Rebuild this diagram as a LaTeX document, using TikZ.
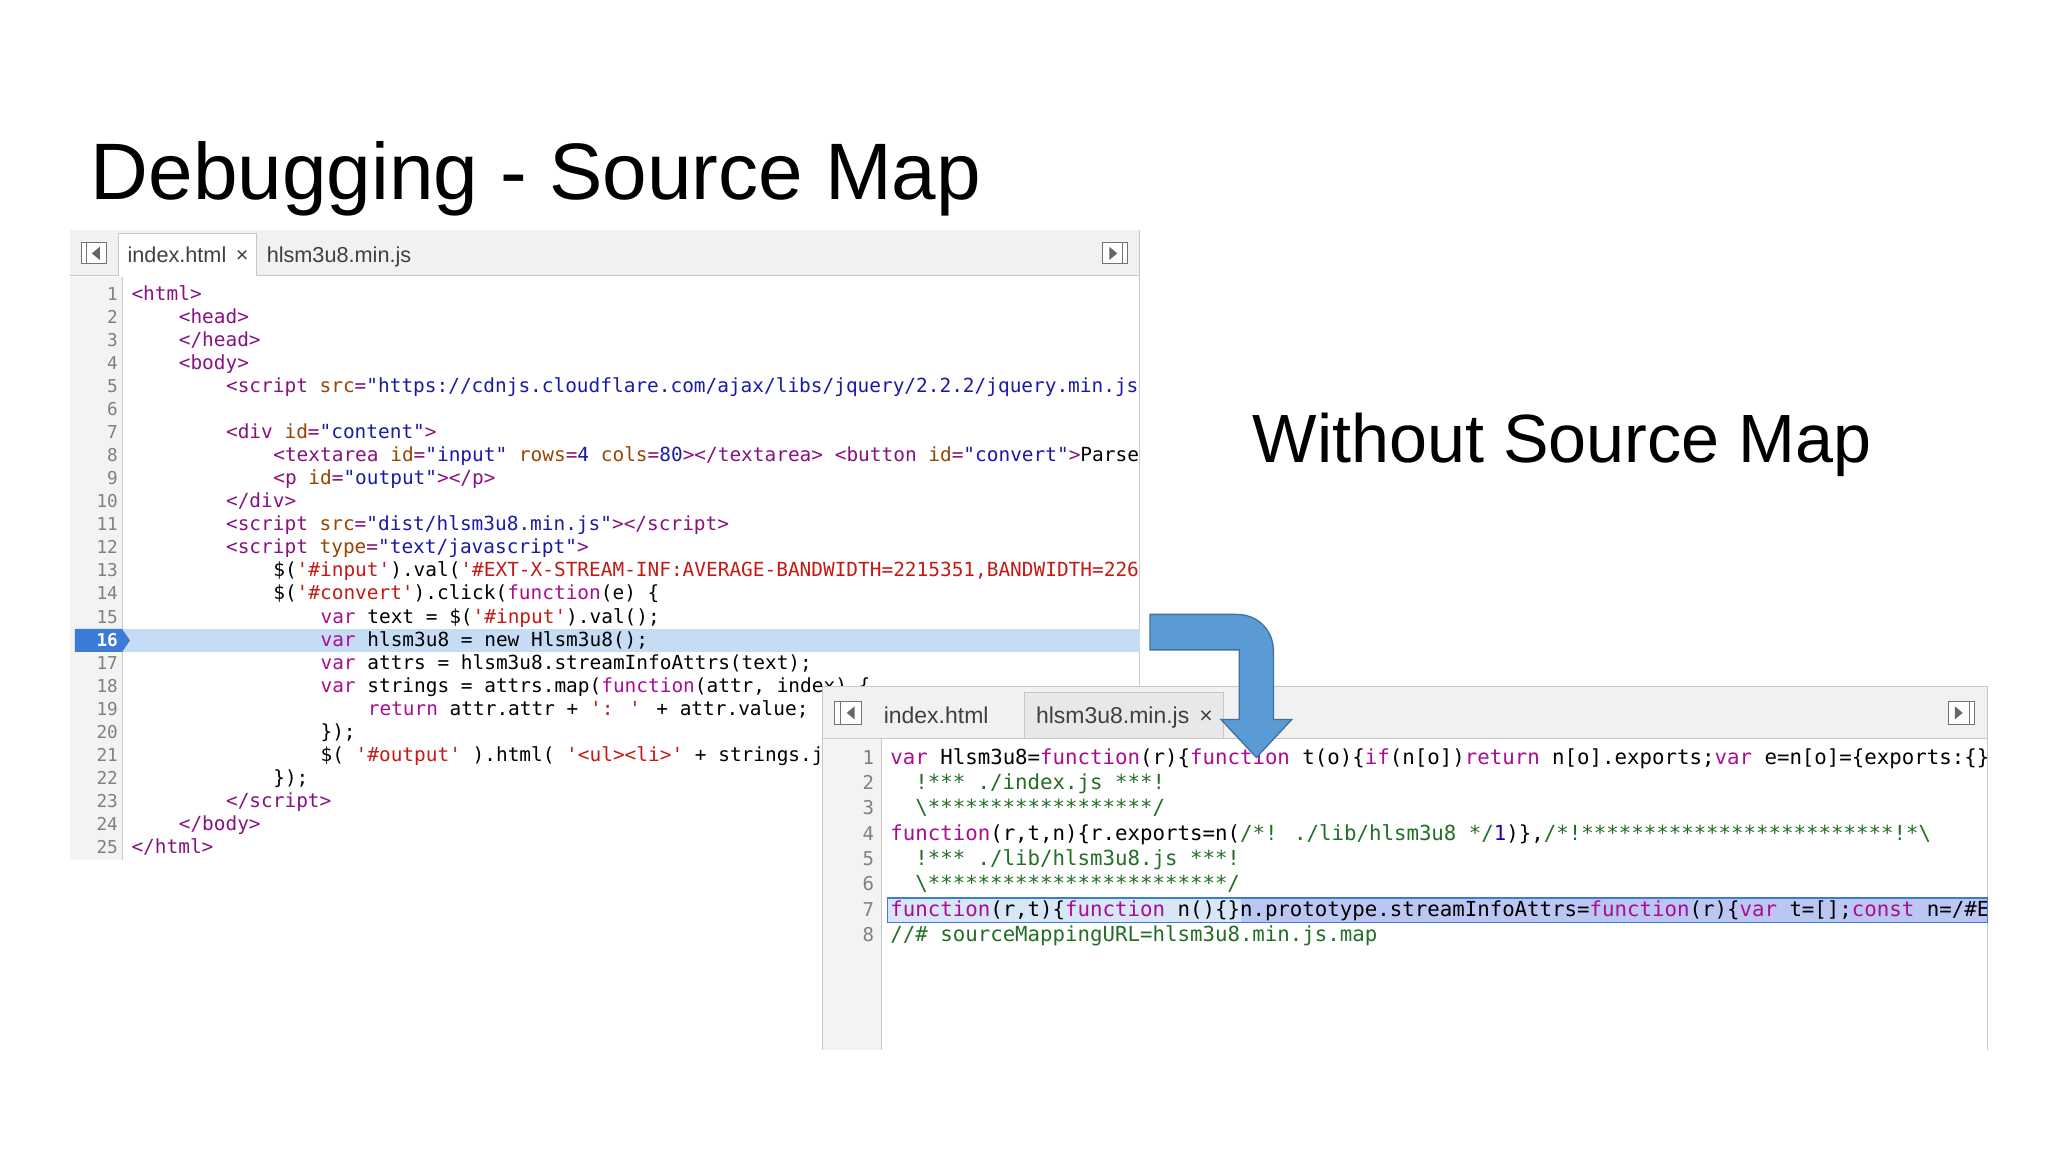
\documentclass[tikz,border=0pt]{standalone}
\usepackage{fontspec}
\setmainfont{Liberation Sans}
\newfontfamily\codefont{DejaVu Sans Mono}
\definecolor{tagc}{HTML}{881280}
\definecolor{attrc}{HTML}{994500}
\definecolor{valc}{HTML}{1A1AA6}
\definecolor{kwc}{HTML}{AA0D91}
\definecolor{strc}{HTML}{C41A16}
\definecolor{cmc}{HTML}{236E25}
\definecolor{numc}{HTML}{1C00CF}
\definecolor{barbg}{HTML}{F1F1F1}
\definecolor{gutbg}{HTML}{F3F3F3}
\definecolor{edge}{HTML}{C8C8C8}
\definecolor{hl}{HTML}{C6DCF4}
\definecolor{badge}{HTML}{3D7BD8}
\definecolor{selc}{HTML}{BCC6F2}
\definecolor{arrowfill}{HTML}{5B9BD5}
\definecolor{arrowline}{HTML}{41719C}
\newcommand{\Tg}[1]{\textcolor{tagc}{#1}}
\newcommand{\An}[1]{\textcolor{attrc}{#1}}
\newcommand{\Av}[1]{\textcolor{valc}{#1}}
\newcommand{\Kw}[1]{\textcolor{kwc}{#1}}
\newcommand{\St}[1]{\textcolor{strc}{#1}}
\newcommand{\Cm}[1]{\textcolor{cmc}{#1}}
\newcommand{\Nm}[1]{\textcolor{numc}{#1}}
\tikzset{
  lcode/.style={inner sep=0pt,anchor=base west,font=\codefont\fontsize{14.8}{17}\selectfont},
  rcode/.style={inner sep=0pt,anchor=base west,font=\codefont\fontsize{15.8}{18}\selectfont},
  lnum/.style={inner sep=0pt,anchor=base east,text=gray,font=\codefont\fontsize{13.5}{15}\selectfont},
  tabtxt/.style={inner sep=0pt,anchor=base west,font=\fontsize{16.5}{18}\selectfont,text=black!75},
  icon/.style={draw=black!55,line width=0.8pt,fill=white}
}
\newcommand{\LL}[3]{\node[lcode] (ll#1) at (#2,{229+(#1-1)*17.54}) {#3};}
\newcommand{\RL}[3]{\node[rcode] (rl#1) at (#2,{582+(#1-1)*19.3}) {#3};}
\begin{document}
\begin{tikzpicture}[x=1pt,y=-1pt]
\useasboundingbox (0,0) rectangle (1560,877.5);
\fill[white] (0,0) rectangle (1560,877.5);
% title
\node[inner sep=0pt,anchor=base west,font=\fontsize{61}{66}\selectfont] (title) at (69,152) {Debugging - Source Map};
\node[inner sep=0pt,anchor=base west,font=\fontsize{52}{58}\selectfont] (without) at (954,352) {Without Source Map};
% ---------------- left panel
\fill[white] (53,175) rectangle (868,655);
\fill[barbg] (53,175) rectangle (868,210);
\draw[edge] (53,210) -- (868,210);
\fill[white] (90,178) rectangle (195,210);
\draw[edge] (90,210) -- (90,178) -- (195,178) -- (195,210);
\draw[icon] (62,185) rectangle (81,201);
\draw[black!55] (66,185) -- (66,201);
\fill[black!60] (76,188) -- (70,193) -- (76,198) -- cycle;
\draw[icon] (840,185) rectangle (859,201);
\draw[black!55] (855,185) -- (855,201);
\fill[black!60] (845,188) -- (851,193) -- (845,198) -- cycle;
\node[tabtxt] (lt1) at (97,200) {index.html \,×};
\node[tabtxt] (lt2) at (203,200) {hlsm3u8.min.js};
\fill[gutbg] (53,211) rectangle (93,655);
\draw[edge] (93,211) -- (93,655);
\draw[edge] (868,175) -- (868,655);
% highlight line 16
\fill[hl] (93,{229+15*17.54-13}) rectangle (868,{229+15*17.54+4.5});
\fill[badge] (57,{229+15*17.54-13}) -- (93,{229+15*17.54-13}) -- (99,{229+15*17.54-4.25}) -- (93,{229+15*17.54+4.5}) -- (57,{229+15*17.54+4.5}) -- cycle;
\foreach \n in {1,...,25}{
  \ifnum\n=16
   \node[lnum,text=white,font=\codefont\bfseries\fontsize{13.5}{15}\selectfont] (ln\n) at (90,{229+(\n-1)*17.54}) {\n};
  \else
   \node[lnum] (ln\n) at (90,{229+(\n-1)*17.54}) {\n};
  \fi
}
\begin{scope}
\clip (94,211) rectangle (867,655);
\LL{1}{100}{\Tg{<html>}}
\LL{2}{136}{\Tg{<head>}}
\LL{3}{136}{\Tg{</head>}}
\LL{4}{136}{\Tg{<body>}}
\LL{5}{172}{\Tg{<script} \An{src}\Tg{=}\Av{"https://cdnjs.cloudflare.com/ajax/libs/jquery/2.2.2/jquery.min.js"}\Tg{></script>}}
\LL{7}{172}{\Tg{<div} \An{id}\Tg{=}\Av{"content"}\Tg{>}}
\LL{8}{208}{\Tg{<textarea} \An{id}\Tg{=}\Av{"input"} \An{rows}\Tg{=}\Av{4} \An{cols}\Tg{=}\Av{80}\Tg{></textarea>} \Tg{<button} \An{id}\Tg{=}\Av{"convert"}\Tg{>}Parse}
\LL{9}{208}{\Tg{<p} \An{id}\Tg{=}\Av{"output"}\Tg{></p>}}
\LL{10}{172}{\Tg{</div>}}
\LL{11}{172}{\Tg{<script} \An{src}\Tg{=}\Av{"dist/hlsm3u8.min.js"}\Tg{></script>}}
\LL{12}{172}{\Tg{<script} \An{type}\Tg{=}\Av{"text/javascript"}\Tg{>}}
\LL{13}{208}{\$(\St{'\#input'}).val(\St{'\#EXT-X-STREAM-INF:AVERAGE-BANDWIDTH=2215351,BANDWIDTH=2266'})}
\LL{14}{208}{\$(\St{'\#convert'}).click(\Kw{function}(e) \{}
\LL{15}{244}{\Kw{var} text = \$(\St{'\#input'}).val();}
\LL{16}{244}{\Kw{var} hlsm3u8 = new Hlsm3u8();}
\LL{17}{244}{\Kw{var} attrs = hlsm3u8.streamInfoAttrs(text);}
\LL{18}{244}{\Kw{var} strings = attrs.map(\Kw{function}(attr, index) \{}
\LL{19}{280}{\Kw{return} attr.attr + \St{': '} + attr.value;}
\LL{20}{244}{\});}
\LL{21}{244}{\$( \St{'\#output'} ).html( \St{'<ul><li>'} + strings.join(\St{'</li><li>'}));}
\LL{22}{208}{\});}
\LL{23}{172}{\Tg{</script>}}
\LL{24}{136}{\Tg{</body>}}
\LL{25}{100}{\Tg{</html>}}
\end{scope}
% ---------------- right panel
\fill[white] (626,523) rectangle (1514,800);
\fill[barbg] (626,523) rectangle (1514,562);
\fill[black!9] (780,527) rectangle (932,562);
\draw[edge] (780,562) -- (780,527) -- (932,527) -- (932,562);
\draw[edge] (626,562) -- (1514,562);
\draw[edge] (626,523) -- (1514,523);
\draw[icon] (636,534) rectangle (656,552);
\draw[black!55] (640,534) -- (640,552);
\fill[black!60] (651,538) -- (645,543) -- (651,548) -- cycle;
\draw[icon] (1484,534) rectangle (1504,552);
\draw[black!55] (1500,534) -- (1500,552);
\fill[black!60] (1489,538) -- (1495,543) -- (1489,548) -- cycle;
\node[tabtxt,font=\fontsize{17.5}{19}\selectfont] (rt1) at (673,551) {index.html};
\node[tabtxt,font=\fontsize{17.5}{19}\selectfont] (rt2) at (789,551) {hlsm3u8.min.js \,×};
\fill[gutbg] (627,563) rectangle (671,800);
\draw[edge] (671,563) -- (671,800);
\draw[edge] (626,523) -- (626,800);
\draw[edge] (1514,523) -- (1514,800);
% line 7 highlight
\fill[hl!70] (676,{582+6*19.3-14}) rectangle (1514,{582+6*19.3+5});
\fill[selc] (945,{582+6*19.3-14}) rectangle (1514,{582+6*19.3+5});
\draw[badge,line width=1.2pt] (676,{582+6*19.3-14}) rectangle (1514,{582+6*19.3+5});
\foreach \n in {1,...,8}{
  \node[lnum,font=\codefont\fontsize{14.5}{16}\selectfont] (rn\n) at (666,{582+(\n-1)*19.3}) {\n};
}
\begin{scope}
\clip (672,563) rectangle (1513,800);
\RL{1}{678}{\Kw{var} Hlsm3u8=\Kw{function}(r)\{\Kw{function} t(o)\{\Kw{if}(n[o])\Kw{return} n[o].exports;\Kw{var} e=n[o]=\{exports:\{\},id:o\}}
\RL{2}{697}{\Cm{!*** ./index.js ***!}}
\RL{3}{697}{\Cm{\textbackslash******************/}}
\RL{4}{678}{\Kw{function}(r,t,n)\{r.exports=n(\Cm{/*! ./lib/hlsm3u8 */}\Nm{1})\},\Cm{/*!*************************!*\textbackslash}}
\RL{5}{697}{\Cm{!*** ./lib/hlsm3u8.js ***!}}
\RL{6}{697}{\Cm{\textbackslash************************/}}
\RL{7}{678}{\Kw{function}(r,t)\{\Kw{function} n()\{\}n.prototype.streamInfoAttrs=\Kw{function}(r)\{\Kw{var} t=[];\Kw{const} n=/\#EXT}
\RL{8}{678}{\Cm{//\# sourceMappingURL=hlsm3u8.min.js.map}}
\end{scope}
% ---------------- arrow (on top)
\draw[arrowline,fill=arrowfill,line width=1pt,line join=miter]
  (876,468) -- (942,468) .. controls (958,468) and (970,480) .. (970,496)
  -- (970,548) -- (984,548) -- (957,577) -- (930,548) -- (944,548) -- (944,495) -- (876,495) -- cycle;
\end{tikzpicture}
\end{document}
